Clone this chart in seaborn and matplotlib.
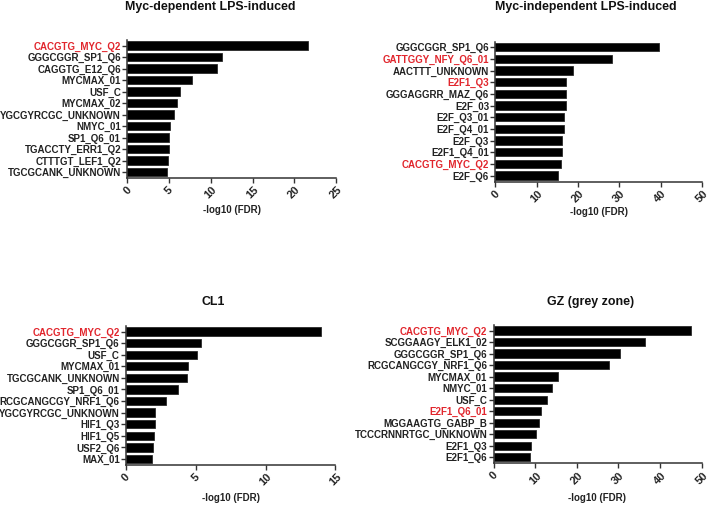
import matplotlib
matplotlib.use("Agg")
import matplotlib.pyplot as plt
import matplotlib.transforms as mtransforms
import seaborn as sns
import pandas as pd

# ---------------- data ----------------
p1_title = "Myc-dependent LPS-induced"
p1_labels = ["CACGTG_MYC_Q2", "GGGCGGR_SP1_Q6", "CAGGTG_E12_Q6", "MYCMAX_01", "USF_C",
             "MYCMAX_02", "YGCGYRCGC_UNKNOWN", "NMYC_01", "SP1_Q6_01", "TGACCTY_ERR1_Q2",
             "CTTTGT_LEF1_Q2", "TGCGCANK_UNKNOWN"]
p1_values = [21.7, 11.4, 10.8, 7.7, 6.35, 5.9, 5.6, 5.15, 5.05, 5.05, 4.9, 4.75]
p1_red = ["CACGTG_MYC_Q2"]
p1_xticks = [0, 5, 10, 15, 20, 25]

p2_title = "Myc-independent LPS-induced"
p2_labels = ["GGGCGGR_SP1_Q6", "GATTGGY_NFY_Q6_01", "AACTTT_UNKNOWN", "E2F1_Q3",
             "GGGAGGRR_MAZ_Q6", "E2F_03", "E2F_Q3_01", "E2F_Q4_01", "E2F_Q3",
             "E2F1_Q4_01", "CACGTG_MYC_Q2", "E2F_Q6"]
p2_values = [39.6, 28.3, 18.7, 17.2, 17.2, 17.2, 16.7, 16.7, 16.2, 16.2, 16.0, 15.1]
p2_red = ["GATTGGY_NFY_Q6_01", "E2F1_Q3", "CACGTG_MYC_Q2"]
p2_xticks = [0, 10, 20, 30, 40, 50]

p3_title = "CL1"
p3_labels = ["CACGTG_MYC_Q2", "GGGCGGR_SP1_Q6", "USF_C", "MYCMAX_01", "TGCGCANK_UNKNOWN",
             "SP1_Q6_01", "RCGCANGCGY_NRF1_Q6", "YGCGYRCGC_UNKNOWN", "HIF1_Q3", "HIF1_Q5",
             "USF2_Q6", "MAX_01"]
p3_values = [13.95, 5.37, 5.09, 4.47, 4.35, 3.75, 2.89, 2.1, 2.08, 1.98, 1.96, 1.89]
p3_red = ["CACGTG_MYC_Q2"]
p3_xticks = [0, 5, 10, 15]

p4_title = "GZ (grey zone)"
p4_labels = ["CACGTG_MYC_Q2", "SCGGAAGY_ELK1_02", "GGGCGGR_SP1_Q6", "RCGCANGCGY_NRF1_Q6",
             "MYCMAX_01", "NMYC_01", "USF_C", "E2F1_Q6_01", "MGGAAGTG_GABP_B",
             "TCCCRNNRTGC_UNKNOWN", "E2F1_Q3", "E2F1_Q6"]
p4_values = [47.4, 36.5, 30.4, 27.8, 15.5, 14.0, 12.8, 11.4, 10.9, 10.2, 8.9, 8.7]
p4_red = ["CACGTG_MYC_Q2", "E2F1_Q6_01"]
p4_xticks = [0, 10, 20, 30, 40, 50]

xlabel = "-log10 (FDR)"

# ---------------- style ----------------
sns.set_theme(style="ticks")
plt.rcParams['font.family'] = ['Liberation Sans', 'DejaVu Sans']
RED = "#e1262d"
AXC = "#333333"

W, H = 709, 505
fig = plt.figure(figsize=(W / 100, H / 100), dpi=100)

# layout (pixels): axes left, top, right, bottom ; title center ; xlabel center y
panels = [
    (p1_title, p1_labels, p1_values, p1_red, p1_xticks, (127.3, 40, 336, 178), (210, 7), 210),
    (p2_title, p2_labels, p2_values, p2_red, p2_xticks, (495.3, 41.7, 702, 181.7), (586, 7), 212),
    (p3_title, p3_labels, p3_values, p3_red, p3_xticks, (126, 326, 335.3, 465), (213, 302), 498),
    (p4_title, p4_labels, p4_values, p4_red, p4_xticks, (493.5, 325, 701.5, 463.3), (591, 302), 498),
]

shift = mtransforms.ScaledTranslation(-3.5 / 100, 0, fig.dpi_scale_trans)

for title, labels, values, reds, xticks, (l, t, r, b), (tx, ty), ly in panels:
    ax = fig.add_axes([l / W, 1 - b / H, (r - l) / W, (b - t) / H])
    df = pd.DataFrame({"motif": labels, "val": values})
    sns.barplot(data=df, x="val", y="motif", orient="h", color="black",
                edgecolor="#2a2a2a", linewidth=0.6, width=0.72, saturation=1, ax=ax)
    n = len(labels)
    ax.set_ylim(n - 1 + 0.52, -0.48)
    ax.set_xlim(xticks[0], xticks[-1])
    ax.set_xticks(xticks)
    ax.set_xticklabels([str(v) for v in xticks], rotation=45, ha="center", va="top",
                       fontsize=8, fontweight="bold", color="#222222")
    for tl in ax.get_xticklabels():
        tl.set_transform(tl.get_transform() + shift)
    ax.set_yticks(range(n))
    ax.set_yticklabels(labels, fontsize=7, fontweight="bold")
    for tl in ax.get_yticklabels():
        tl.set_color(RED if tl.get_text() in reds else "#222222")
    ax.set_ylabel("")
    ax.set_xlabel(xlabel, fontsize=7, fontweight="bold", color="#222222", va="center")
    ax.xaxis.set_label_coords(0.5, (b - ly) / (b - t))
    for s in ["top", "right"]:
        ax.spines[s].set_visible(False)
    for s in ["left", "bottom"]:
        ax.spines[s].set_color(AXC)
        ax.spines[s].set_linewidth(1.1)
    ax.tick_params(axis="y", length=3.5, width=1.0, color=AXC, pad=1)
    ax.tick_params(axis="x", length=3.5, width=1.0, color=AXC, pad=1.5)
    ax.grid(False)
    fig.text(tx / W, 1 - ty / H, title, ha="center", va="center",
             fontsize=8.9, fontweight="bold", color="#111111")

fig.savefig("out.png", dpi=100, facecolor="white")
